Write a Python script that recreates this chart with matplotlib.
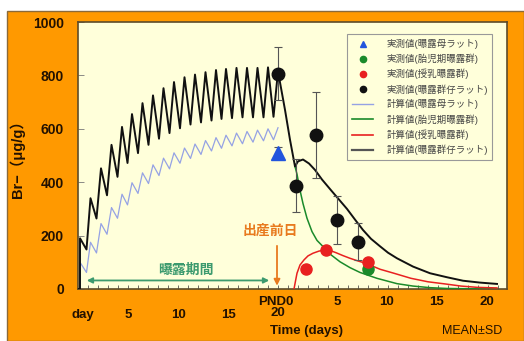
import numpy as np
import matplotlib
matplotlib.use("Agg")
import matplotlib.pyplot as plt
from matplotlib.lines import Line2D
from matplotlib.patches import Rectangle

plt.rcParams['font.family'] = ['Liberation Sans', 'Noto Sans CJK JP', 'DejaVu Sans']

# x axis: gestation day d -> d, postnatal day p -> BIRTH + p
BIRTH = 20.9

# computed curve, pups of exposed group (daily dosing sawtooth during exposure)
dose_peak_day = [0.2, 1.25, 2.3, 3.35, 4.4, 5.4, 6.45, 7.5, 8.55, 9.6, 10.65,
                 11.7, 12.75, 13.8, 14.8, 15.85, 16.9, 17.95, 19.0, 20.0]
dose_trough_day = [0.85, 1.85, 2.9, 3.95, 4.95, 6.0, 7.05, 8.1, 9.15, 10.2,
                   11.25, 12.3, 13.35, 14.35, 15.4, 16.45, 17.5, 18.55, 19.55]
pup_peak = [190, 340, 452, 540, 607, 655, 696, 725, 752, 775, 793, 803, 812,
            820, 824, 828, 828, 828, 830, 815]
pup_trough = [148, 264, 351, 420, 472, 509, 540, 563, 584, 602, 616, 624, 631,
              637, 640, 643, 643, 643, 645]

# computed curve, exposed mothers
mom_peak = [100, 175, 245, 305, 355, 398, 435, 465, 490, 510, 528, 543, 556,
            567, 576, 584, 590, 595, 600, 604]
mom_trough = [62, 135, 205, 265, 315, 358, 395, 425, 450, 471, 489, 504, 517,
              527, 536, 544, 550, 555, 559]

# computed curves after birth (postnatal day)
pup_post_pnd = [-0.2, 0.3, 0.8, 1.1, 1.6, 2.2, 2.8, 3.5, 4.4, 5.2, 6.0, 6.8,
                7.6, 8.4, 9.3, 10.1, 11.0, 12.6, 14.3, 16.0, 17.6, 19.3, 21.0]
pup_post_val = [671, 559, 459, 478, 485, 470, 446, 410, 370, 335, 300, 260,
                221, 188, 160, 136, 115, 84, 59, 44, 31, 24, 19]

fetal_pnd = [0.8, 1.0, 1.3, 1.6, 2.0, 2.5, 3.0, 3.6, 4.4, 5.3, 6.3, 7.3, 9.0,
             11.0, 12.6, 14.3, 16.0, 18.0, 21.0]
fetal_val = [459, 430, 370, 320, 265, 215, 182, 159, 128, 102, 80, 62, 40,
             20, 11, 5, 2, 1, 0]

lact_pnd = [0.7, 0.85, 1.0, 1.3, 1.7, 2.1, 2.6, 3.2, 3.8, 4.4, 4.9, 5.6, 6.3,
            7.1, 7.9, 9.3, 10.6, 12.4, 14.1, 15.8, 17.4, 19.1, 21.0]
lact_val = [0, 30, 59, 90, 109, 124, 134, 142, 146, 143, 136, 125, 115, 105,
            96, 74, 60, 40, 27, 19, 11, 6, 4]

# measured values (mean, SD)
mom_obs_day, mom_obs, mom_sd = [20.0], [511], [20]
pup_obs_x = [20.0, BIRTH + 0.9, BIRTH + 2.9, BIRTH + 5.0, BIRTH + 7.1]
pup_obs = [806, 387, 577, 259, 177]
pup_sd = [100, 100, 162, 90, 69]
lact_obs_pnd, lact_obs, lact_sd = [1.9, 3.9, 8.1], [75, 146, 100], [8, 10, 10]
fetal_obs_pnd, fetal_obs, fetal_sd = [8.1], [74], [8]

legend_labels = ['実測値(曝露母ラット)', '実測値(胎児期曝露群)', '実測値(授乳曝露群)',
                 '実測値(曝露群仔ラット)', '計算値(曝露母ラット)', '計算値(胎児期曝露群)',
                 '計算値(授乳曝露群)', '計算値(曝露群仔ラット)']

BLACK = '#111111'
BLUE = '#2255dd'
LBLUE = '#95a2e4'
GREEN = '#1a8a2a'
RED = '#e82020'
ORANGE_BG = '#FF9900'


def sawtooth(peak_day, trough_day, peak, trough):
    xs, ys = [0.0, peak_day[0]], [0.0, 0.0]
    for i in range(len(peak)):
        xs.append(peak_day[i]); ys.append(peak[i])
        if i < len(trough):
            xs.append(trough_day[i]); ys.append(trough[i])
    return xs, ys


W, H = 524, 341
fig = plt.figure(figsize=(W / 100, H / 100), dpi=100, facecolor='white')
fig.patches.append(Rectangle((7 / W, 0), 1 - 7 / W, 1 - 11 / H, transform=fig.transFigure,
                             facecolor=ORANGE_BG, edgecolor='#8a6a3a', lw=1.0, zorder=-10))

ax = fig.add_axes([78 / W, 1 - 289 / H, 429 / W, 267 / H])
ax.set_facecolor('#FFFFDA')

# computed curves
mx, my = sawtooth(dose_peak_day, dose_trough_day, mom_peak, mom_trough)
ax.plot(mx, my, color=LBLUE, lw=0.9, zorder=2)
px, py = sawtooth(dose_peak_day, dose_trough_day, pup_peak, pup_trough)
px += [BIRTH + p for p in pup_post_pnd]
py += pup_post_val
ax.plot(px, py, color=BLACK, lw=1.4, zorder=4)
ax.plot([BIRTH + p for p in fetal_pnd], fetal_val, color=GREEN, lw=1.1, zorder=3)
ax.plot([BIRTH + p for p in lact_pnd], lact_val, color=RED, lw=1.1, zorder=3)

# measured values
ekw = dict(ecolor='#555555', elinewidth=0.8, capsize=3, capthick=0.8, ls='none')
ax.errorbar(pup_obs_x, pup_obs, yerr=pup_sd, marker='o', ms=9, color=BLACK, zorder=6, **ekw)
ax.errorbar(mom_obs_day, mom_obs, yerr=mom_sd, marker='^', ms=10, color=BLUE, zorder=6, **ekw)
ax.errorbar([BIRTH + p for p in fetal_obs_pnd], fetal_obs, yerr=fetal_sd, marker='o', ms=8,
            color=GREEN, zorder=6, **ekw)
ax.errorbar([BIRTH + p for p in lact_obs_pnd], lact_obs, yerr=lact_sd, marker='o', ms=8,
            color=RED, zorder=7, **ekw)

ax.set_xlim(0, 42.9)
ax.set_ylim(0, 1000)
ax.set_yticks(range(0, 1001, 200))
ax.set_yticklabels([str(v) for v in range(0, 1001, 200)], fontsize=10, fontweight='bold',
                   color='#221100')
ax.set_xticks([])
ax.set_xticks(np.arange(1, 43), minor=True)
ax.tick_params(axis='x', which='minor', direction='in', length=3, width=0.6, color='#555555')
ax.tick_params(axis='y', direction='in', length=4, width=0.6, color='#777777', pad=10)
for s in ax.spines.values():
    s.set_color('#5c4b2a')
    s.set_linewidth(1.2)

ax.set_ylabel('Br−（μg/g）', fontsize=10.5, fontweight='bold', color='#221100', labelpad=6)

# annotations inside the plot
ax.annotate('', xy=(0.6, 32), xytext=(19.4, 32),
            arrowprops=dict(arrowstyle='<|-|>', color='#3c9a6e', lw=1.3,
                            mutation_scale=8))
ax.text(10.8, 72, '曝露期間', color='#3c9a6e', fontsize=10, fontweight='bold',
        ha='center', va='center')
ax.annotate('', xy=(19.9, 2), xytext=(19.9, 172),
            arrowprops=dict(arrowstyle='-|>', color='#e87a1e', lw=1.3, mutation_scale=9))
ax.text(19.2, 218, '出産前日', color='#e87a1e', fontsize=10, fontweight='bold',
        ha='center', va='center')

# legend
handles = [
    Line2D([], [], ls='none', marker='^', ms=5, color=BLUE),
    Line2D([], [], ls='none', marker='o', ms=4.5, color=GREEN),
    Line2D([], [], ls='none', marker='o', ms=4.5, color=RED),
    Line2D([], [], ls='none', marker='o', ms=4.5, color=BLACK),
    Line2D([], [], color=LBLUE, lw=1.0),
    Line2D([], [], color=GREEN, lw=1.2),
    Line2D([], [], color=RED, lw=1.2),
    Line2D([], [], color='#555555', lw=1.6),
]
leg = ax.legend(handles, legend_labels, loc='upper right', bbox_to_anchor=(0.977, 0.972),
                fontsize=6.8, frameon=True, fancybox=False, facecolor='#FFFFDA',
                edgecolor='#999999', framealpha=1, handlelength=2.2, handletextpad=1.4,
                labelspacing=0.5, borderpad=0.5)
for t in leg.get_texts():
    t.set_color('#444444')
leg.get_frame().set_linewidth(0.8)


# x tick labels in two rows (gestation days / postnatal days)
def fx(xd):
    return (78 + 10 * xd) / W


def fy(py_):
    return 1 - py_ / H


lab_kw = dict(fontsize=9.5, fontweight='bold', color='#221100', ha='center', va='center')
fig.text(fx(0.5), fy(315), 'day', **lab_kw)
for d in [5, 10, 15]:
    fig.text(fx(d), fy(315), str(d), **lab_kw)
fig.text(fx(20), fy(313), '20', **lab_kw)
fig.text(fx(19.8), fy(302), 'PND0', **lab_kw)
for p in [5, 10, 15, 20]:
    fig.text(fx(BIRTH + p), fy(302), str(p), **lab_kw)
fig.text(fx(22.9), fy(331), 'Time (days)', **lab_kw)
fig.text(472 / W, fy(331), 'MEAN±SD', fontsize=9, color='#221100', ha='center', va='center')

fig.savefig('out.png', dpi=100, facecolor='white')
